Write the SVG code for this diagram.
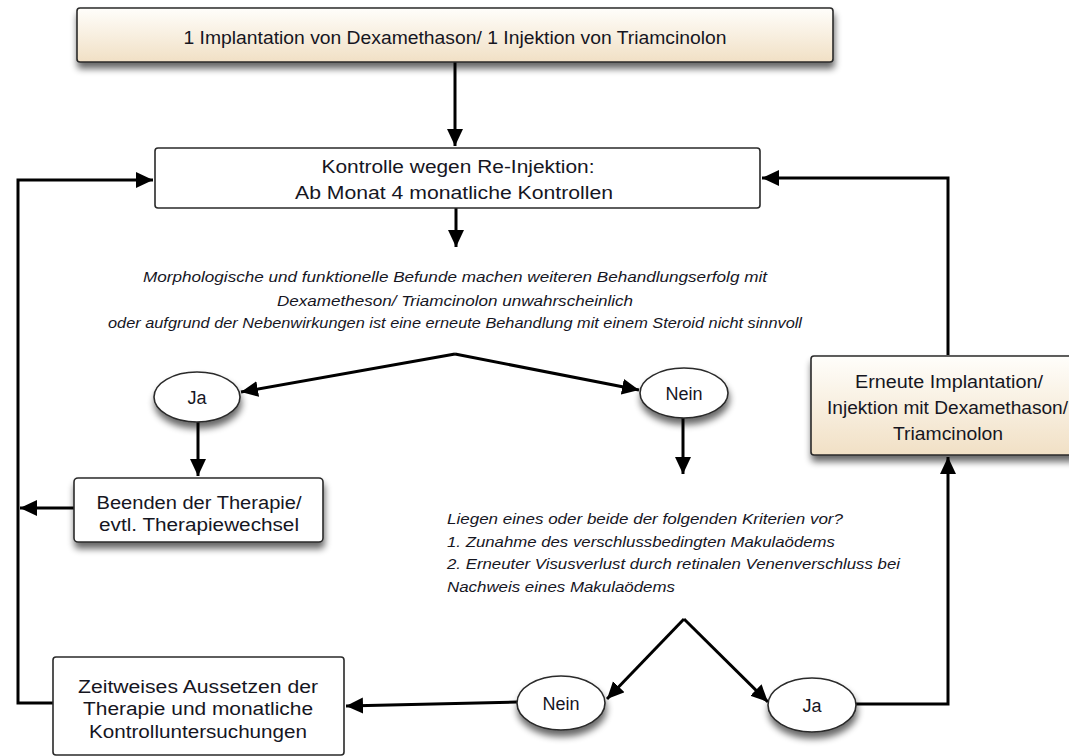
<svg xmlns="http://www.w3.org/2000/svg" width="1069" height="756" viewBox="0 0 1069 756">
  <defs>
    <linearGradient id="beige" x1="0" y1="0" x2="0" y2="1">
      <stop offset="0" stop-color="#fffefb"/>
      <stop offset="1" stop-color="#f1e0c5"/>
    </linearGradient>
    <filter id="shadow" x="-10%" y="-20%" width="120%" height="170%">
      <feGaussianBlur in="SourceAlpha" stdDeviation="3.5"/>
      <feOffset dx="1" dy="6" result="b"/>
      <feComponentTransfer><feFuncA type="linear" slope="0.6"/></feComponentTransfer>
      <feMerge><feMergeNode/><feMergeNode in="SourceGraphic"/></feMerge>
    </filter>
    <marker id="arrow" markerUnits="userSpaceOnUse" markerWidth="19" markerHeight="17" refX="17" refY="8" orient="auto">
      <path d="M0,0 L17,8 L0,16 z" fill="#000"/>
    </marker>
  </defs>
  <style>
    .box { stroke: #2a2a2a; stroke-width: 1.6; }
    .plain { fill: #ffffff; }
    .warm { fill: url(#beige); }
    .oval { fill: #ffffff; stroke: #2a2a2a; stroke-width: 1.6; }
    .cal { font-family: "Liberation Sans", Arial, sans-serif; font-size: 17.5px; fill: #16161f; text-anchor: middle; }
    .hel { font-family: "Liberation Sans", Arial, sans-serif; font-size: 18px; fill: #16161f; text-anchor: middle; }
    .it { font-family: "Liberation Sans", Arial, sans-serif; font-size: 15px; font-style: italic; fill: #16161f; }
    .conn { fill: none; stroke: #000; stroke-width: 3; }
  </style>

  <rect width="1069" height="756" fill="#ffffff"/>

  <g id="connectors">
    <path class="conn" d="M455,62 L455,146" marker-end="url(#arrow)"/>
    <path class="conn" d="M456,208 L456,247" marker-end="url(#arrow)"/>
    <path class="conn" d="M455,354 L241,392" marker-end="url(#arrow)"/>
    <path class="conn" d="M455,354 L639,390" marker-end="url(#arrow)"/>
    <path class="conn" d="M198,422 L198,476" marker-end="url(#arrow)"/>
    <path class="conn" d="M683,418 L683,474" marker-end="url(#arrow)"/>
    <path class="conn" d="M74,508 L20,508" marker-end="url(#arrow)"/>
    <path class="conn" d="M53,703 L18,703 L18,180 L153,180" marker-end="url(#arrow)"/>
    <path class="conn" d="M684,619 L607,699" marker-end="url(#arrow)"/>
    <path class="conn" d="M684,619 L768,702" marker-end="url(#arrow)"/>
    <path class="conn" d="M517,702 L346,706" marker-end="url(#arrow)"/>
    <path class="conn" d="M856,704 L948,704 L948,457" marker-end="url(#arrow)"/>
    <path class="conn" d="M948,355 L948,178 L762,178" marker-end="url(#arrow)"/>
  </g>

  <g id="start">
    <rect class="box warm" x="77" y="8" width="756" height="54" rx="3" filter="url(#shadow)"/>
    <text class="cal" x="455" y="44" textLength="543" lengthAdjust="spacingAndGlyphs">1 Implantation von Dexamethason/ 1 Injektion von Triamcinolon</text>
  </g>

  <g id="kontrolle">
    <rect class="box plain" x="155" y="148" width="605" height="60" rx="3"/>
    <text class="cal" x="458" y="173" font-size="18.5" textLength="273" lengthAdjust="spacingAndGlyphs">Kontrolle wegen Re-Injektion:</text>
    <text class="cal" x="454" y="199" font-size="18.5" textLength="318" lengthAdjust="spacingAndGlyphs">Ab Monat 4 monatliche Kontrollen</text>
  </g>

  <g id="frage1">
    <text class="it" x="455" y="282" text-anchor="middle" textLength="624" lengthAdjust="spacingAndGlyphs">Morphologische und funktionelle Befunde machen weiteren Behandlungserfolg mit</text>
    <text class="it" x="455" y="306" text-anchor="middle" textLength="356" lengthAdjust="spacingAndGlyphs">Dexametheson/ Triamcinolon unwahrscheinlich</text>
    <text class="it" x="455" y="328" text-anchor="middle" textLength="694" lengthAdjust="spacingAndGlyphs">oder aufgrund der Nebenwirkungen ist eine erneute Behandlung mit einem Steroid nicht sinnvoll</text>
  </g>

  <g id="ja1">
    <ellipse class="oval" cx="197" cy="397" rx="43" ry="25" filter="url(#shadow)"/>
    <text class="hel" x="197" y="404" font-size="19">Ja</text>
  </g>

  <g id="nein1">
    <ellipse class="oval" cx="684" cy="393" rx="44" ry="25" filter="url(#shadow)"/>
    <text class="hel" x="684" y="400" font-size="19">Nein</text>
  </g>

  <g id="beenden">
    <rect class="box plain" x="74" y="478" width="249" height="64" rx="4" filter="url(#shadow)"/>
    <text class="hel" x="199" y="509" textLength="205" lengthAdjust="spacingAndGlyphs">Beenden der Therapie/</text>
    <text class="hel" x="199" y="531" textLength="200" lengthAdjust="spacingAndGlyphs">evtl. Therapiewechsel</text>
  </g>

  <g id="frage2">
    <text class="it" x="447" y="524" textLength="396" lengthAdjust="spacingAndGlyphs">Liegen eines oder beide der folgenden Kriterien vor?</text>
    <text class="it" x="447" y="547" textLength="388" lengthAdjust="spacingAndGlyphs">1. Zunahme des verschlussbedingten Makulaödems</text>
    <text class="it" x="447" y="569" textLength="453" lengthAdjust="spacingAndGlyphs">2. Erneuter Visusverlust durch retinalen Venenverschluss bei</text>
    <text class="it" x="447" y="592" textLength="228" lengthAdjust="spacingAndGlyphs">Nachweis eines Makulaödems</text>
  </g>

  <g id="erneute">
    <rect class="box warm" x="811" y="356" width="280" height="99" rx="3" filter="url(#shadow)"/>
    <text class="cal" x="949" y="388" textLength="188" lengthAdjust="spacingAndGlyphs">Erneute Implantation/</text>
    <text class="cal" x="947.5" y="414" textLength="241" lengthAdjust="spacingAndGlyphs">Injektion mit Dexamethason/</text>
    <text class="cal" x="948" y="440" textLength="110" lengthAdjust="spacingAndGlyphs">Triamcinolon</text>
  </g>

  <g id="zeitweises">
    <rect class="box plain" x="53" y="657" width="291" height="98" rx="3"/>
    <text class="hel" x="198" y="693" font-size="17" textLength="240" lengthAdjust="spacingAndGlyphs">Zeitweises Aussetzen der</text>
    <text class="hel" x="198" y="715" font-size="17" textLength="230" lengthAdjust="spacingAndGlyphs">Therapie und monatliche</text>
    <text class="hel" x="198" y="738" font-size="17" textLength="218" lengthAdjust="spacingAndGlyphs">Kontrolluntersuchungen</text>
  </g>

  <g id="nein2">
    <ellipse class="oval" cx="561" cy="703" rx="44" ry="27" filter="url(#shadow)"/>
    <text class="hel" x="561" y="710" font-size="19">Nein</text>
  </g>

  <g id="ja2">
    <ellipse class="oval" cx="812" cy="705" rx="44" ry="27" filter="url(#shadow)"/>
    <text class="hel" x="812" y="712" font-size="19">Ja</text>
  </g>
</svg>
